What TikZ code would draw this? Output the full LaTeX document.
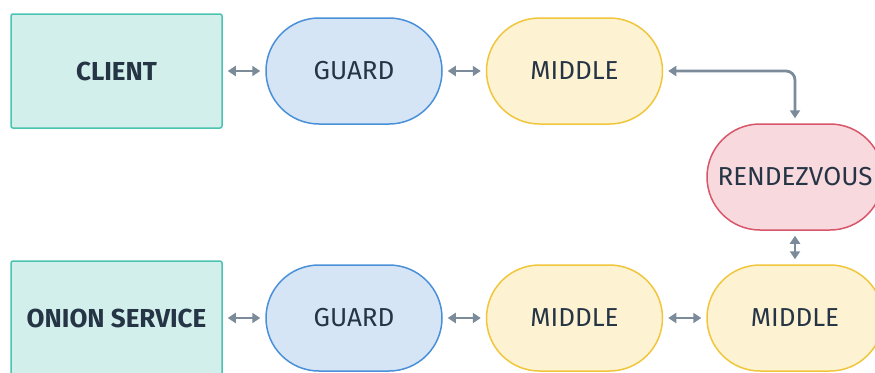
\documentclass[tikz,border=0pt]{standalone}
\usepackage{fontspec}
\setmainfont{Fira Sans}
\usetikzlibrary{arrows.meta}
\definecolor{txt}{HTML}{263545}
\definecolor{linkc}{HTML}{7B8B99}
\definecolor{endfill}{HTML}{D2EFEC}\definecolor{enddraw}{HTML}{4CC2B0}
\definecolor{guardfill}{HTML}{D5E5F5}\definecolor{guarddraw}{HTML}{4A90D9}
\definecolor{midfill}{HTML}{FDF2D2}\definecolor{middraw}{HTML}{F0C63C}
\definecolor{rvfill}{HTML}{F7D9DE}\definecolor{rvdraw}{HTML}{D9566A}
\tikzset{
  endpoint/.style={draw=enddraw, fill=endfill, line width=1.5pt, rounded corners=2pt,
    minimum width=211pt, minimum height=114pt, text=txt, font=\fontsize{26}{30}\selectfont\bfseries},
  relay/.style={line width=1.5pt, rounded corners=53pt, minimum width=176pt,
    minimum height=106pt, text=txt, font=\fontsize{26}{30}\selectfont},
  guardnode/.style={relay, draw=guarddraw, fill=guardfill},
  midnode/.style={relay, draw=middraw, fill=midfill},
  rvnode/.style={relay, draw=rvdraw, fill=rvfill},
  link/.style={draw=linkc, line width=2.8pt, {Triangle[length=8pt,width=10pt]}-{Triangle[length=8pt,width=10pt]},
    shorten <=5pt, shorten >=5pt},
}
\begin{document}
\begin{tikzpicture}[x=1pt, y=-1pt]
  \useasboundingbox (0,0) rectangle (875,372);
  \clip (0,0) rectangle (875,372);
  % top circuit
  \node[endpoint]  (client) at (116.5,71) {CLIENT};
  \node[guardnode] (g1) at (354,71) {GUARD};
  \node[midnode]   (m1) at (574.5,71) {MIDDLE};
  \node[rvnode]    (rv) at (795,177) {RENDEZVOUS};
  % bottom circuit
  \node[endpoint]  (onion) at (116.5,318) {ONION SERVICE};
  \node[guardnode] (g2) at (354,318) {GUARD};
  \node[midnode]   (m2) at (574.5,318) {MIDDLE};
  \node[midnode]   (m3) at (795,318) {MIDDLE};
  % links
  \draw[link] (client) -- (g1);
  \draw[link] (g1) -- (m1);
  \draw[link, rounded corners=9pt] (m1.east) -| (rv.north);
  \draw[link] (onion) -- (g2);
  \draw[link] (g2) -- (m2);
  \draw[link] (m2) -- (m3);
  \draw[link] (rv) -- (m3);
\end{tikzpicture}
\end{document}
